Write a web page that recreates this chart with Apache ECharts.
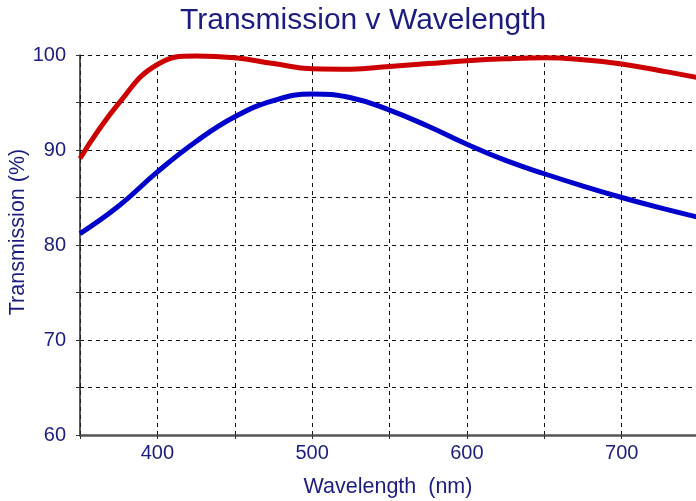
<!DOCTYPE html>
<html>
<head>
<meta charset="utf-8">
<script src="https://cdn.jsdelivr.net/npm/echarts@6/dist/echarts.min.js"></script>
<style>
  html, body { margin: 0; padding: 0; background: #fff; }
  #chart { width: 696px; height: 501px; }
</style>
</head>
<body>
<div id="chart"></div>
<script>
// wavelength samples (nm)
var wavelengths = [350, 375, 400, 425, 450, 475, 500, 525, 550, 575, 600, 625, 650, 675, 700, 725, 750];
// transmission (%) of the two curves
var redCurve  = [89.1, 94.9, 99.0, 99.9, 99.7, 99.1, 98.55, 98.5, 98.8, 99.1, 99.4, 99.6, 99.7, 99.5, 99.05, 98.35, 97.6];
var blueCurve = [81.2, 84.1, 87.7, 90.9, 93.5, 95.2, 95.9, 95.5, 94.2, 92.5, 90.6, 88.9, 87.5, 86.2, 85.0, 83.9, 82.9];
var xTickLabels = [400, 500, 600, 700];
var yTickLabels = [60, 70, 80, 90, 100];

function pairs(xs, ys) {
    return xs.map(function (x, i) { return [x, ys[i]]; });
}

var navy = '#1c1c80';
var font = 'Liberation Sans, Arial, sans-serif';
var chart = echarts.init(document.getElementById('chart'));
chart.setOption({
    animation: false,
    backgroundColor: '#fff',
    textStyle: { fontFamily: font },
    title: {
        text: 'Transmission v Wavelength',
        left: 175,
        top: 1,
        textStyle: { color: navy, fontSize: 30, fontWeight: 'normal', fontFamily: font }
    },
    grid: { left: 80, right: 0, top: 55, bottom: 66, containLabel: false, outerBoundsMode: 'none' },
    xAxis: {
        type: 'value',
        min: 350,
        max: 748,
        interval: 50,
        name: 'Wavelength  (nm)',
        nameLocation: 'middle',
        nameGap: 41,
        nameMoveOverlap: false,
        nameTextStyle: { color: navy, fontSize: 21.5 },
        axisLine: { lineStyle: { color: '#555', width: 2.5 } },
        axisTick: { show: true, length: 4, lineStyle: { color: '#333' } },
        axisLabel: {
            color: navy,
            fontSize: 20,
            margin: 8,
            showMinLabel: true,
            showMaxLabel: true,
            formatter: function (v) { return xTickLabels.indexOf(v) >= 0 ? String(v) : ''; }
        },
        splitLine: { show: true, lineStyle: { color: '#111', type: [4, 4], width: 1 } }
    },
    yAxis: {
        type: 'value',
        min: 60,
        max: 100,
        interval: 5,
        name: 'Transmission (%)',
        nameLocation: 'middle',
        nameGap: 51,
        nameMoveOverlap: false,
        nameTextStyle: { color: navy, fontSize: 21.5, padding: [0, 0, 0, 26] },
        axisLine: { show: true, lineStyle: { color: '#222', width: 1.5 } },
        axisTick: { show: true, length: 4, lineStyle: { color: '#333' } },
        axisLabel: {
            color: navy,
            fontSize: 20,
            margin: 14,
            formatter: function (v) { return yTickLabels.indexOf(v) >= 0 ? String(v) : ''; }
        },
        splitLine: { show: true, lineStyle: { color: '#111', type: [4, 4], width: 1 } }
    },
    series: [
        {
            name: 'Red',
            type: 'line',
            data: pairs(wavelengths, redCurve),
            smooth: 0.45,
            showSymbol: false,
            lineStyle: { color: '#cc0000', width: 5 },
            z: 3
        },
        {
            name: 'Blue',
            type: 'line',
            data: pairs(wavelengths, blueCurve),
            smooth: 0.45,
            showSymbol: false,
            lineStyle: { color: '#0000cc', width: 5 },
            z: 3
        }
    ]
});
</script>
</body>
</html>
